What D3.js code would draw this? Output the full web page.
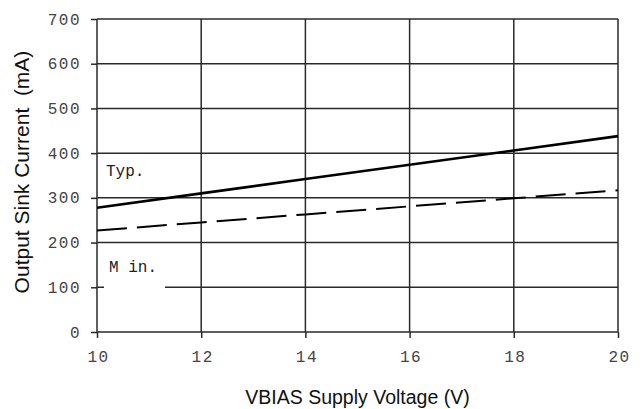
<!DOCTYPE html>
<html><head><meta charset="utf-8">
<script src="https://cdn.jsdelivr.net/npm/d3@7"></script>
<style>body{margin:0;background:#fff}svg{display:block}</style>
</head><body>
<svg id="c" width="642" height="409"></svg>
<script>
const voltages = [10, 12, 14, 16, 18, 20];
const typValues = [278, 310, 342, 374, 406, 438];
const minValues = [227, 245, 263, 281, 299, 317];
const xTicks = [10, 12, 14, 16, 18, 20];
const yTicks = [0, 100, 200, 300, 400, 500, 600, 700];
const xTitle = "VBIAS Supply Voltage (V)";
const yTitle = "Output Sink Current\u00a0 (mA)";

const svg = d3.select("#c");
const x = d3.scaleLinear().domain([10, 20]).range([97, 618]);
const y = d3.scaleLinear().domain([0, 700]).range([332, 19]);
const grid = "#2a2a2a";

// grid
svg.append("g").selectAll("line").data(yTicks).join("line")
  .attr("x1", x(10)).attr("x2", x(20))
  .attr("y1", d => y(d)).attr("y2", d => y(d))
  .attr("stroke", grid).attr("stroke-width", 1.5);
svg.append("g").selectAll("line").data(xTicks).join("line")
  .attr("x1", d => x(d)).attr("x2", d => x(d))
  .attr("y1", y(700)).attr("y2", y(0))
  .attr("stroke", grid).attr("stroke-width", 1.5);

// axes
const yAxis = svg.append("g").attr("transform", `translate(${x(10)},0)`)
  .call(d3.axisLeft(y).tickValues(yTicks).tickSize(6).tickPadding(10));
const xAxis = svg.append("g").attr("transform", `translate(0,${y(0)})`)
  .call(d3.axisBottom(x).tickValues(xTicks).tickSize(6).tickPadding(13));
[yAxis, xAxis].forEach(a => {
  a.select(".domain").remove();
  a.selectAll("line").attr("stroke", grid).attr("stroke-width", 1.5);
  a.selectAll("text").attr("font-family", "Liberation Mono, monospace")
    .attr("font-size", 16).attr("fill", "#444").style("letter-spacing", "1.5px");
});
xAxis.selectAll("text").attr("dx", 1);

// lines
const line = d3.line().x((d, i) => x(voltages[i])).y(d => y(d));
svg.append("path").datum(typValues).attr("d", line)
  .attr("fill", "none").attr("stroke", "#000").attr("stroke-width", 2.6);
svg.append("path").datum(minValues).attr("d", line)
  .attr("fill", "none").attr("stroke", "#000").attr("stroke-width", 2)
  .attr("stroke-dasharray", "30,10");

// labels
svg.append("text").attr("x", 106).attr("y", 176).text("Typ.")
  .attr("font-family", "Liberation Mono, monospace").attr("font-size", 16).attr("fill", "#222");
svg.append("rect").attr("x", 104).attr("y", 248).attr("width", 61).attr("height", 44).attr("fill", "#fff");
svg.append("text").attr("x", 109).attr("y", 272).text("M in.")
  .attr("font-family", "Liberation Mono, monospace").attr("font-size", 16).attr("fill", "#222");

// titles
svg.append("text").attr("x", (x(10) + x(20)) / 2).attr("y", 404).attr("text-anchor", "middle")
  .attr("font-family", "Liberation Sans, Arial, sans-serif").attr("font-size", 19.5).attr("fill", "#111")
  .text(xTitle);
svg.append("text").attr("transform", "translate(29,172) rotate(-90)").attr("text-anchor", "middle")
  .attr("font-family", "Liberation Sans, Arial, sans-serif").attr("font-size", 21).attr("fill", "#111")
  .text(yTitle);
</script>
</body></html>
